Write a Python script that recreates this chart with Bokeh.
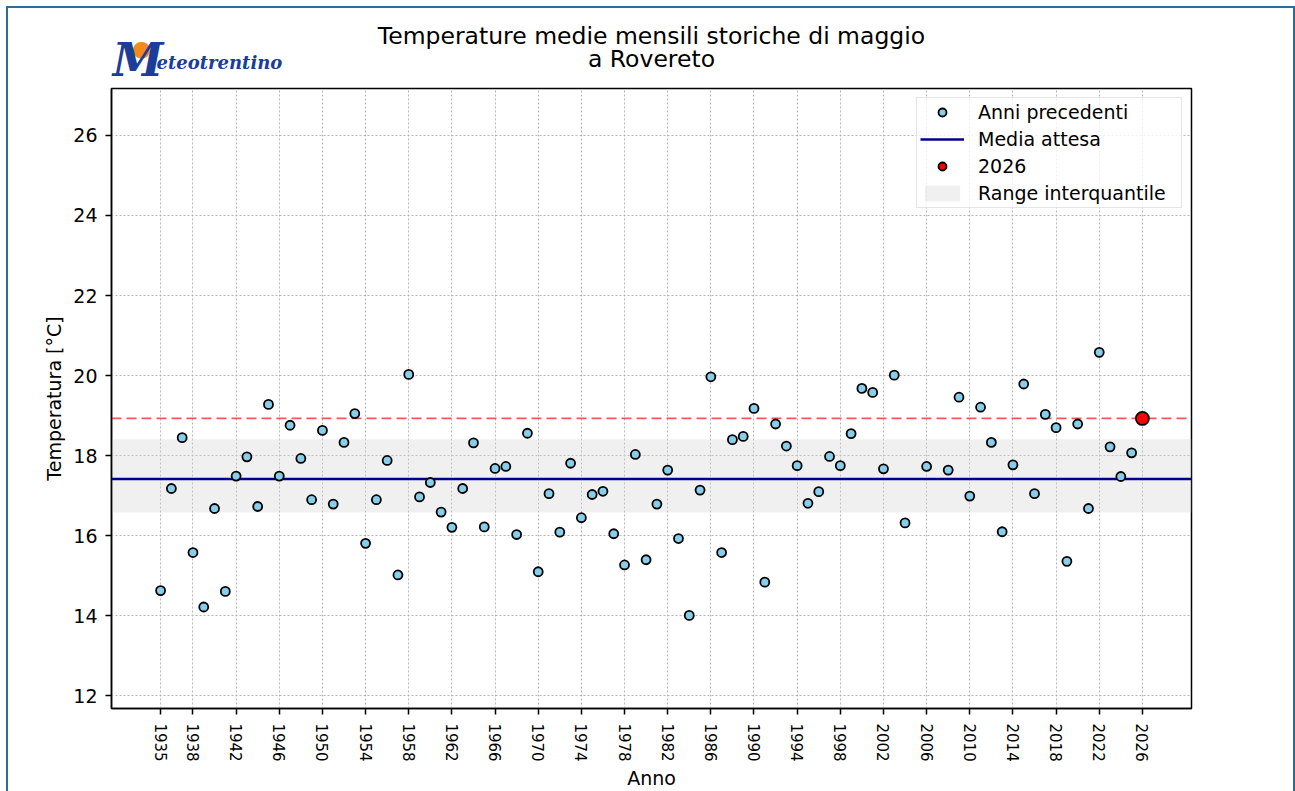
from bokeh.plotting import figure
from bokeh.layouts import column
from bokeh.models import Range1d, Legend, LegendItem
from bokeh.core.properties import value
from bokeh.embed import file_html
from bokeh.resources import INLINE

# ---------------- data ----------------
years = [1935, 1936, 1937, 1938, 1939, 1940, 1941, 1942, 1943, 1944,
         1945, 1946, 1947, 1948, 1949, 1950, 1951, 1952, 1953, 1954,
         1955, 1956, 1957, 1958, 1959, 1960, 1961, 1962, 1963, 1964,
         1965, 1966, 1967, 1968, 1969, 1970, 1971, 1972, 1973, 1974,
         1975, 1976, 1977, 1978, 1979, 1980, 1981, 1982, 1983, 1984,
         1985, 1986, 1987, 1988, 1989, 1990, 1991, 1992, 1993, 1994,
         1995, 1996, 1997, 1998, 1999, 2000, 2001, 2002, 2003, 2004,
         2006, 2008, 2009, 2010, 2011, 2012, 2013, 2014, 2015, 2016,
         2017, 2018, 2019, 2020, 2021, 2022, 2023, 2024, 2025]
temps = [14.63, 17.18, 18.45, 15.58, 14.22, 16.68, 14.61, 17.49, 17.97, 16.73,
         19.28, 17.49, 18.76, 17.93, 16.90, 18.63, 16.79, 18.33, 19.05, 15.81,
         16.90, 17.88, 15.02, 20.03, 16.97, 17.33, 16.59, 16.21, 17.18, 18.32,
         16.22, 17.68, 17.73, 16.03, 18.56, 15.10, 17.05, 16.09, 17.81, 16.45,
         17.03, 17.11, 16.05, 15.27, 18.03, 15.40, 16.79, 17.64, 15.93, 14.01,
         17.14, 19.97, 15.58, 18.40, 18.48, 19.18, 14.84, 18.79, 18.24, 17.75,
         16.81, 17.10, 17.98, 17.75, 18.55, 19.68, 19.58, 17.67, 20.01, 16.32,
         17.73, 17.64, 19.46, 16.99, 19.21, 18.33, 16.10, 17.77, 19.79, 17.05,
         19.03, 18.70, 15.36, 18.79, 16.68, 20.58, 18.22, 17.48, 18.07]
current_year = [2026]
current_temp = [18.93]
mean_expected = [17.42]
q25 = [16.58]
q75 = [18.41]

x_ticks = [1935, 1938, 1942, 1946, 1950, 1954, 1958, 1962, 1966, 1970, 1974,
           1978, 1982, 1986, 1990, 1994, 1998, 2002, 2006, 2010, 2014, 2018,
           2022, 2026]
y_ticks = [12, 14, 16, 18, 20, 22, 24, 26]

title_lines = ["Temperature medie mensili storiche di maggio", "a Rovereto"]
x_label = "Anno"
y_label = "Temperatura [°C]"
legend_labels = ["Anni precedenti", "Media attesa", "2026", "Range interquantile"]
logo_parts = ["M", "eteotrentino"]

FONT = "DejaVu Sans"
W = 1285
HEAD_H = 78
MAIN_H = 705
FRAME_L, FRAME_R = 103, 1183   # frame edges in canvas pixels (shared by both figures)

# ---------------- header (title + logo) ----------------
head = figure(width=W, height=HEAD_H, output_backend="svg", toolbar_location=None,
              x_range=Range1d(FRAME_L, FRAME_R), y_range=Range1d(0, HEAD_H),
              x_axis_type=None, y_axis_type=None,
              min_border_left=FRAME_L, min_border_right=W - FRAME_R,
              min_border_top=0, min_border_bottom=0)
head.grid.visible = False
head.outline_line_color = None
head.background_fill_color = "white"
head.border_fill_color = "white"

head.text(x=[643], y=[51], text=[title_lines[0]], text_font=value(FONT),
          text_font_size="23.5px", text_align="center", text_baseline="middle",
          text_color="black")
head.text(x=[643], y=[28], text=[title_lines[1]], text_font=value(FONT),
          text_font_size="23.5px", text_align="center", text_baseline="middle",
          text_color="black")
# logo
head.text(x=[133], y=[38], text=["●"], text_font=value(FONT),
          text_font_size="22px", text_align="center", text_baseline="middle",
          text_color="#f28a1e")
head.text(x=[104], y=[0], text=[logo_parts[0]], text_font=value("DejaVu Serif"),
          text_font_style="bold italic", text_font_size="46px",
          text_align="left", text_baseline="bottom", text_color="#1b3d9a")
head.text(x=[148], y=[24], text=[logo_parts[1]], text_font=value("DejaVu Serif"),
          text_font_style="bold italic", text_font_size="18px",
          text_align="left", text_baseline="alphabetic", text_color="#1b3d9a")

# ---------------- main plot ----------------
X_LO, X_HI = 1930.45, 2030.55
Y_LO, Y_HI = 11.685, 27.17

p = figure(width=W, height=MAIN_H, output_backend="svg", toolbar_location=None,
           x_range=Range1d(X_LO, X_HI), y_range=Range1d(Y_LO, Y_HI),
           min_border_left=FRAME_L, min_border_right=W - FRAME_R, min_border_top=2,
           min_border_bottom=83)
p.title.visible = False
p.background_fill_color = "white"
p.border_fill_color = "white"
p.outline_line_color = "black"
p.outline_line_width = 1.5

p.xaxis.ticker = x_ticks
p.yaxis.ticker = y_ticks
p.xaxis.major_label_orientation = "vertical"
for ax in (p.xaxis, p.yaxis):
    ax.axis_line_color = "black"
    ax.axis_line_width = 1.5
    ax.major_tick_line_color = "black"
    ax.major_tick_line_width = 1.5
    ax.major_tick_out = 6
    ax.major_tick_in = 0
    ax.minor_tick_line_color = None
    ax.major_label_text_font = FONT
    ax.major_label_text_color = "black"
    ax.axis_label_text_font = FONT
    ax.axis_label_text_font_style = "normal"
    ax.axis_label_text_font_size = "19px"
    ax.axis_label_text_color = "black"
p.xaxis.major_label_text_font_size = "15px"
p.yaxis.major_label_text_font_size = "19px"
p.xaxis.major_label_standoff = 9
p.yaxis.major_label_standoff = 8
p.xaxis.axis_label_standoff = 2
p.yaxis.axis_label_standoff = 5
p.xaxis.axis_label = x_label
p.yaxis.axis_label = y_label

p.grid.grid_line_color = "#b5b5b5"
p.grid.grid_line_dash = "2 2"
p.grid.grid_line_width = 1

band = p.varea(x=[X_LO, X_HI], y1=q25 * 2, y2=q75 * 2,
               fill_color="lightgray", fill_alpha=0.35)
mean_r = p.line(x=[X_LO, X_HI], y=mean_expected * 2,
                line_color="darkblue", line_width=2.5)
p.line(x=[X_LO, X_HI], y=current_temp * 2, line_color="#ee3b3b",
       line_dash="10 5", line_width=1.8, line_alpha=0.85)
pts = p.scatter(years, temps, size=9, fill_color="skyblue",
                line_color="black", line_width=1.8)
cur = p.scatter(current_year, current_temp, size=13, fill_color="red",
                line_color="black", line_width=1.8)

legend = Legend(items=[
    LegendItem(label=legend_labels[0], renderers=[pts]),
    LegendItem(label=legend_labels[1], renderers=[mean_r]),
    LegendItem(label=legend_labels[2], renderers=[cur]),
    LegendItem(label=legend_labels[3], renderers=[band]),
], location="top_right")
legend.label_text_font = FONT
legend.label_text_font_size = "19px"
legend.label_text_color = "black"
legend.border_line_color = "#cccccc"
legend.border_line_width = 1
legend.background_fill_alpha = 0.8
legend.margin = 9
legend.padding = 3
legend.spacing = 5
legend.glyph_width = 44
legend.glyph_height = 20
legend.label_height = 20
legend.label_width = 200
legend.label_standoff = 14
p.add_layout(legend)

page = column(head, p, spacing=0)
page.styles = {"margin-left": "6px", "margin-top": "6px",
               "border-left": "2px solid #2d6b98",
               "border-top": "2px solid #2d6b98",
               "border-right": "2px solid #2d6b98"}

open("out.html", "w").write(file_html(page, INLINE))
